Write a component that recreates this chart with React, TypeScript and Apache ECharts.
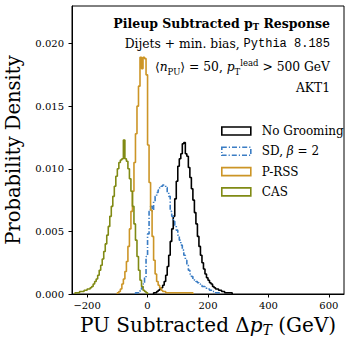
import React, { useEffect, useRef } from "react";
import * as echarts from "echarts";

const BIN = 5;
const xTicks = [-200, 0, 200, 400, 600];
const yTicks = [0, 0.005, 0.01, 0.015, 0.02];

const noGroomStart = 20;
const noGroomValues = [
  0.0001, 0.0001, 0.0002, 0.0003, 0.0004, 0.0005, 0.0007, 0.001, 0.0015, 0.0022,
  0.0031, 0.0042, 0.0052, 0.0062, 0.0076, 0.009, 0.0102, 0.0108, 0.0112, 0.012,
  0.0121, 0.0112, 0.011, 0.0101, 0.0093, 0.0084, 0.0075, 0.0065, 0.0056, 0.0046,
  0.0038, 0.0031, 0.0025, 0.002, 0.0016, 0.0013, 0.0011, 0.0009, 0.0008, 0.0006,
  0.0005, 0.0004, 0.0004, 0.0003, 0.0003, 0.0002, 0.0002, 0.0001, 0.0001, 0.0001,
  0.0001, 0.0001,
];

const sdStart = -40;
const sdValues = [
  0.0001, 0.0001, 0.0002, 0.0003, 0.0005, 0.0008, 0.0013, 0.003, 0.0048, 0.0066,
  0.007, 0.0066, 0.0074, 0.0078, 0.0081, 0.0083, 0.0085, 0.0086, 0.0087, 0.0087,
  0.0085, 0.0081, 0.0078, 0.0066, 0.0062, 0.0058, 0.0055, 0.0051, 0.0047, 0.0043,
  0.0039, 0.0035, 0.0031, 0.0027, 0.0023, 0.0019, 0.0016, 0.0014, 0.0012, 0.0011,
  0.001, 0.0009, 0.0008, 0.0007, 0.0006, 0.0006, 0.0005, 0.0004, 0.0004, 0.0003,
  0.0003, 0.0002, 0.0002, 0.0001, 0.0001, 0.0001,
];

const prssStart = -100;
const prssValues = [
  0.0001, 0.0002, 0.0004, 0.0008, 0.0012, 0.0018, 0.0026, 0.0038, 0.0052, 0.0066,
  0.0082, 0.0105, 0.0128, 0.015, 0.0166, 0.0189, 0.018, 0.0189, 0.0188, 0.0175,
  0.0119, 0.0089, 0.0067, 0.0046, 0.0027, 0.0016, 0.001, 0.0007, 0.0005, 0.0003,
  0.0002, 0.0002, 0.0001, 0.0001, 0.0001, 0.0001, 0.0001, 0.0001, 0.0001, 0.0001,
  0.0001, 0.0001, 0.0001, 0.0001, 0.0001, 0.0001, 0.0001, 0.0001, 0.0001, 0.0001,
];

const casStart = -240;
const casValues = [
  0.0001, 0.0001, 0.0001, 0.0002, 0.0002, 0.0002, 0.0003, 0.0003, 0.0004, 0.0004,
  0.0005, 0.0006, 0.0008, 0.001, 0.0012, 0.0015, 0.0019, 0.0023, 0.0028, 0.0034,
  0.004, 0.0047, 0.0054, 0.0062, 0.007, 0.0078, 0.0086, 0.0094, 0.01, 0.0105,
  0.0107, 0.0108, 0.0123, 0.0108, 0.0106, 0.01, 0.0092, 0.0082, 0.007, 0.0056,
  0.0043, 0.003, 0.0019, 0.0011, 0.0006, 0.0003, 0.0002, 0.0001,
];

const names = ["No Grooming", "SD, \u03b2 = 2", "P-RSS", "CAS"];
const colors = ["#000000", "#3b7dc4", "#cc9526", "#808a14"];

const SERIF = "DejaVu Serif";

function steps(start: number, values: number[]) {
  const pts: number[][] = [[start, 0]];
  values.forEach((v, i) => pts.push([start + i * BIN, v]));
  pts.push([start + values.length * BIN, 0]);
  return pts;
}

export default function App() {
  const ref = useRef<HTMLDivElement>(null);
  useEffect(() => {
    if (!ref.current) return;
    const chart = echarts.init(ref.current, null, { renderer: "svg" });
    const sets = [
      steps(noGroomStart, noGroomValues),
      steps(sdStart, sdValues),
      steps(prssStart, prssValues),
      steps(casStart, casValues),
    ];
    const dashDot = [5, 2, 1.2, 2];
    chart.setOption({
      animation: false,
      backgroundColor: "#ffffff",
      grid: {
        left: 72,
        right: 1,
        top: 6,
        bottom: 48,
        show: true,
        borderColor: "#000",
        borderWidth: 1,
        outerBoundsMode: "none",
      },
      xAxis: {
        type: "value",
        min: -250,
        max: 650,
        name: "{n|PU Subtracted \u0394}{i|p}{s|T}{n| (GeV)}",
        nameLocation: "middle",
        nameGap: 17,
        nameTextStyle: {
          rich: {
            n: { fontFamily: SERIF, fontSize: 20, color: "#000", lineHeight: 24 },
            i: { fontFamily: SERIF, fontSize: 20, fontStyle: "italic", color: "#000", lineHeight: 24 },
            s: { fontFamily: SERIF, fontSize: 14, fontStyle: "italic", color: "#000", lineHeight: 14, verticalAlign: "bottom", padding: [6, 0, 0, 0] },
          },
        },
        axisLine: { show: true, onZero: false, lineStyle: { color: "#000", width: 1 } },
        axisTick: { show: true, inside: false, length: 3.5, customValues: xTicks, lineStyle: { color: "#000" } },
        axisLabel: {
          customValues: xTicks,
          formatter: (v: number) => (v < 0 ? "\u2212" + Math.abs(v) : String(v)),
          fontFamily: SERIF,
          fontSize: 10,
          color: "#000",
          margin: 6,
        },
        splitLine: { show: false },
      },
      yAxis: {
        type: "value",
        min: 0,
        max: 0.023,
        name: "Probability Density",
        nameLocation: "middle",
        nameGap: 45,
        nameTextStyle: { fontFamily: SERIF, fontSize: 19.5, color: "#000", lineHeight: 22 },
        axisLine: { show: true, onZero: false, lineStyle: { color: "#000", width: 1 } },
        axisTick: { show: true, inside: false, length: 3.5, customValues: yTicks, lineStyle: { color: "#000" } },
        axisLabel: {
          customValues: yTicks,
          formatter: (v: number) => v.toFixed(3),
          fontFamily: SERIF,
          fontSize: 10,
          color: "#000",
          margin: 8,
        },
        splitLine: { show: false },
      },
      legend: {
        orient: "vertical",
        left: 221,
        top: 124,
        padding: 0,
        itemWidth: 29,
        itemHeight: 8,
        itemGap: 6.3,
        textStyle: {
          fontFamily: SERIF,
          fontSize: 12,
          color: "#000",
          lineHeight: 14,
          padding: [0, 0, 0, 6],
          rich: {
            n: { fontFamily: SERIF, fontSize: 12, color: "#000" },
            i: { fontFamily: SERIF, fontSize: 12, fontStyle: "italic", color: "#000" },
          },
        },
        formatter: (name: string) =>
          name === names[1] ? "{n|SD, }{i|\u03b2}{n| = 2}" : name,
        data: names.map((n, i) => ({
          name: n,
          icon: "rect",
          itemStyle: {
            color: "rgba(0,0,0,0)",
            borderColor: colors[i],
            borderWidth: 1.6,
            borderType: i === 1 ? dashDot : "solid",
          },
        })),
      },
      graphic: [
        {
          type: "text",
          x: 330,
          y: 23,
          style: {
            text: "{b|Pileup Subtracted p}{s|T}{b| Response}",
            align: "right",
            verticalAlign: "middle",
            rich: {
              b: { fontFamily: SERIF, fontSize: 12.5, fontWeight: "bold", fill: "#000", lineHeight: 16 },
              s: { fontFamily: SERIF, fontSize: 8.5, fontWeight: "bold", fill: "#000", lineHeight: 10, verticalAlign: "bottom", padding: [4, 0, 0, 0] },
            },
          },
        },
        {
          type: "text",
          x: 330,
          y: 44,
          style: {
            text: "{n|Dijets + min. bias, }{m|Pythia 8.185}",
            align: "right",
            verticalAlign: "middle",
            rich: {
              n: { fontFamily: SERIF, fontSize: 12.3, fill: "#000", lineHeight: 16 },
              m: { fontFamily: "Liberation Mono", fontSize: 12, fill: "#000", lineHeight: 16 },
            },
          },
        },
        {
          type: "text",
          x: 330,
          y: 67,
          style: {
            text: "{n|\u27e8}{i|n}{s|PU}{n|\u27e9 = 50, }{i|p}{s|T}{u|lead}{n| > 500 GeV}",
            align: "right",
            verticalAlign: "middle",
            rich: {
              n: { fontFamily: SERIF, fontSize: 12.3, fill: "#000", lineHeight: 18 },
              i: { fontFamily: SERIF, fontSize: 12.3, fontStyle: "italic", fill: "#000", lineHeight: 18 },
              s: { fontFamily: SERIF, fontSize: 8.5, fill: "#000", lineHeight: 10, verticalAlign: "bottom", padding: [6, 0, 0, 0] },
              u: { fontFamily: SERIF, fontSize: 8.5, fill: "#000", lineHeight: 10, verticalAlign: "top", padding: [0, 0, 6, 0] },
            },
          },
        },
        {
          type: "text",
          x: 330,
          y: 88,
          style: {
            text: "AKT1",
            align: "right",
            verticalAlign: "middle",
            fontFamily: SERIF,
            fontSize: 12.3,
            fill: "#000",
          },
        },
      ],
      series: sets.map((d, i) => ({
        name: names[i],
        type: "line",
        step: "end",
        data: d,
        symbol: "none",
        color: colors[i],
        lineStyle: {
          color: colors[i],
          width: 1.6,
          type: i === 1 ? dashDot : "solid",
        },
        z: 2 + i,
      })),
    });
    return () => chart.dispose();
  }, []);
  return (
    <div
      ref={ref}
      style={{ position: "fixed", left: 0, top: 0, width: 345, height: 342, background: "#fff" }}
    />
  );
}
